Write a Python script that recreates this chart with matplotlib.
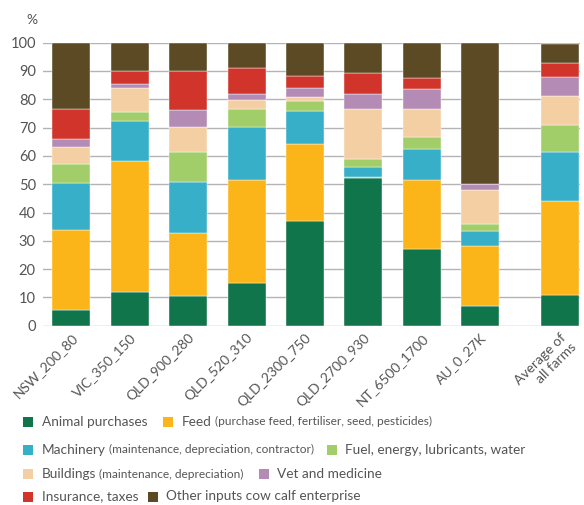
import matplotlib
matplotlib.use("Agg")
import matplotlib.pyplot as plt
from matplotlib.patches import Rectangle
import numpy as np

plt.rcParams['font.family'] = ['Lato', 'DejaVu Sans']

farms = ["NSW_200_80", "VIC_350_150", "QLD_900_280", "QLD_520_310",
         "QLD_2300_750", "QLD_2700_930", "NT_6500_1700", "AU_0_27K",
         "Average of\nall farms"]

animal_purchases = [5.5, 11.9, 10.4, 15.1, 37.0, 52.1, 27.2, 7.1, 10.7]
feed = [28.2, 46.3, 22.5, 36.4, 27.2, 0.4, 24.4, 20.9, 33.4]
machinery = [16.8, 14.2, 18.0, 18.8, 11.8, 3.6, 10.9, 5.6, 17.4]
fuel = [6.6, 3.2, 10.5, 6.4, 3.4, 2.9, 4.3, 2.4, 9.4]
buildings = [6.1, 8.4, 8.7, 3.0, 1.4, 17.4, 9.9, 12.1, 10.3]
vet = [2.8, 1.4, 6.0, 2.2, 3.1, 5.5, 6.8, 2.1, 6.7]
insurance = [10.6, 4.6, 14.0, 9.0, 4.2, 7.4, 4.2, 0.0, 5.1]
other_inputs = [23.4, 10.0, 9.9, 9.1, 11.9, 10.7, 12.3, 49.8, 6.6]

series = [
    ("Animal purchases", "", animal_purchases, "#10754b"),
    ("Feed", " (purchase feed, fertiliser, seed, pesticides)", feed, "#fbb518"),
    ("Machinery", " (maintenance, depreciation, contractor)", machinery, "#38afc9"),
    ("Fuel, energy, lubricants, water", "", fuel, "#a1ce68"),
    ("Buildings", " (maintenance, depreciation)", buildings, "#f4cfa4"),
    ("Vet and medicine", "", vet, "#b38bb5"),
    ("Insurance, taxes", "", insurance, "#d0342a"),
    ("Other inputs cow calf enterprise", "", other_inputs, "#5c4a25"),
]

x = np.array([0, 1, 2, 3, 4, 5, 6, 7, 8.37])

W, H = 584, 505
fig = plt.figure(figsize=(W / 100, H / 100), dpi=100)
ax = fig.add_axes([42.7 / W, 1 - 325.7 / H, (580 - 42.7) / W, (325.7 - 42.7) / H])

bottom = np.zeros(len(x))
for name, sub, vals, col in series:
    v = np.array(vals)
    ax.bar(x, v, width=0.65, bottom=bottom, color=col, edgecolor="#ffffff",
           linewidth=0.3, zorder=3)
    bottom += v

ax.set_ylim(0, 100)
ax.set_xlim(-0.49, 8.71)
ax.set_yticks(np.arange(0, 101, 10))
ax.yaxis.grid(True, color="#b3b3b3", linewidth=1.0, zorder=0)
ax.set_axisbelow(True)
for s in ax.spines.values():
    s.set_visible(False)
ax.tick_params(axis="both", length=0, labelsize=10.5, labelcolor="#555555")
ax.tick_params(axis="y", pad=5)
ax.set_xticks(x)
ax.set_xticklabels(farms, rotation=45, ha="right", va="top",
                   rotation_mode="anchor", fontsize=10, color="#555555")
ax.tick_params(axis="x", pad=4)

fig.text(32 / W, 1 - 20 / H, "%", fontsize=10, color="#555555",
         ha="center", va="center")

# Legend drawn by hand so the parenthetical parts can be smaller
rows = [
    (421.5, [(23.3, 0), (163.3, 1)]),
    (449.5, [(23.3, 2), (326.7, 3)]),
    (474.0, [(23.3, 4), (259.0, 5)]),
    (496.5, [(23.3, 6), (147.7, 7)]),
]
fig.canvas.draw()
renderer = fig.canvas.get_renderer()
for yc, items in rows:
    for xs, idx in items:
        name, sub, vals, col = series[idx]
        fig.patches.append(Rectangle((xs / W, 1 - (yc + 5) / H), 10 / W, 10 / H,
                                     transform=fig.transFigure, facecolor=col,
                                     edgecolor="none"))
        t = fig.text((xs + 18.4) / W, 1 - yc / H, name, fontsize=9.8,
                     color="#555555", ha="left", va="center")
        if sub:
            bb = t.get_window_extent(renderer=renderer)
            fig.text(bb.x1 / W, 1 - yc / H, sub, fontsize=8.6,
                     color="#555555", ha="left", va="center")

fig.savefig("out.png", dpi=100)
